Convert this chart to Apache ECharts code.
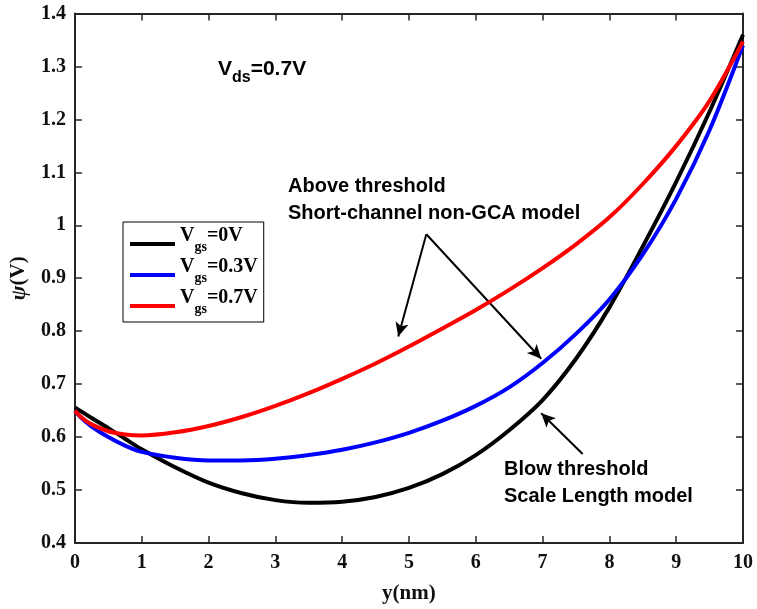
<!DOCTYPE html>
<html>
<head>
<meta charset="utf-8">
<script src="https://cdn.jsdelivr.net/npm/echarts@6/dist/echarts.min.js"></script>
<style>
  html, body { margin: 0; padding: 0; background: #fff; }
  #chart { width: 757px; height: 609px; }
</style>
</head>
<body>
<div id="chart"></div>
<script>
// Channel position y (nm)
const positions = [0, 0.1, 0.25, 0.5, 0.75, 1, 1.5, 2, 2.5, 3, 3.5, 4, 4.5, 5, 5.5, 6, 6.5, 7, 7.5, 8, 8.5, 9, 9.5, 10];

// Surface potential psi (V) for each gate bias
const psiVgs0  = [0.656, 0.648, 0.636, 0.617, 0.597, 0.577, 0.543, 0.514, 0.494, 0.481, 0.476, 0.478, 0.487, 0.504, 0.530, 0.566, 0.613, 0.670, 0.748, 0.845, 0.960, 1.082, 1.215, 1.360];
const psiVgs03 = [0.650, 0.636, 0.620, 0.600, 0.584, 0.572, 0.561, 0.556, 0.556, 0.559, 0.566, 0.576, 0.590, 0.608, 0.631, 0.659, 0.694, 0.740, 0.795, 0.860, 0.945, 1.050, 1.180, 1.340];
const psiVgs07 = [0.650, 0.637, 0.624, 0.611, 0.605, 0.603, 0.609, 0.621, 0.638, 0.659, 0.683, 0.710, 0.739, 0.771, 0.805, 0.840, 0.878, 0.919, 0.964, 1.015, 1.078, 1.150, 1.235, 1.347];

const seriesNames = ['Vgs=0V', 'Vgs=0.3V', 'Vgs=0.7V'];
const legendValues = ['=0V', '=0.3V', '=0.7V'];
const seriesColors = ['#000000', '#0000ff', '#ff0000'];

// Annotation arrows: [from, to] in data coordinates
const arrowAbove1 = [[5.26, 0.983], [4.84, 0.790]];
const arrowAbove2 = [[5.26, 0.983], [6.98, 0.748]];
const arrowBelow  = [[7.60, 0.568], [6.98, 0.645]];

const xTicks = { min: 0, max: 10, interval: 1 };
const yTicks = { min: 0.4, max: 1.4, interval: 0.1 };

const serif = '"Liberation Serif", "Times New Roman", serif';
const sans = '"Liberation Sans", Arial, Helvetica, sans-serif';
const axisColor = '#262626';

function pairs(ys) { return positions.map((x, i) => [x, ys[i]]); }

function arrowLine(seg) {
  return [{ coord: seg[0] }, { coord: seg[1] }];
}

const chart = echarts.init(document.getElementById('chart'), null, { renderer: 'canvas' });

const baseAxisLine = { show: true, onZero: false, lineStyle: { color: axisColor, width: 2 } };
const baseTick = { show: true, inside: true, length: 7, lineStyle: { color: axisColor, width: 1.5 } };

chart.setOption({
  animation: false,
  backgroundColor: '#ffffff',
  grid: { left: 73, right: 14, top: 13.5, bottom: 64.5, containLabel: false },
  xAxis: [
    {
      type: 'value', min: xTicks.min, max: xTicks.max, interval: xTicks.interval,
      position: 'bottom',
      axisLine: baseAxisLine, axisTick: baseTick, splitLine: { show: false },
      axisLabel: { color: '#111', fontFamily: serif, fontWeight: 'bold', fontSize: 20, margin: 10 },
      name: 'y(nm)', nameLocation: 'middle', nameGap: 40,
      nameTextStyle: { color: '#111', fontFamily: serif, fontWeight: 'bold', fontSize: 21 }
    },
    {
      type: 'value', min: xTicks.min, max: xTicks.max, interval: xTicks.interval,
      position: 'top',
      axisLine: baseAxisLine, axisTick: baseTick, splitLine: { show: false },
      axisLabel: { show: false }
    }
  ],
  yAxis: [
    {
      type: 'value', min: yTicks.min, max: yTicks.max, interval: yTicks.interval,
      position: 'left',
      axisLine: baseAxisLine, axisTick: baseTick, splitLine: { show: false },
      axisLabel: { color: '#111', fontFamily: serif, fontWeight: 'bold', fontSize: 20, margin: 9 },
      name: '{p|ψ}{b|(V)}', nameLocation: 'middle', nameGap: 42, nameRotate: 90,
      nameTextStyle: {
        rich: {
          p: { fontFamily: serif, fontStyle: 'italic', fontWeight: 'bold', fontSize: 22, color: '#111' },
          b: { fontFamily: serif, fontWeight: 'bold', fontSize: 21, color: '#111' }
        }
      }
    },
    {
      type: 'value', min: yTicks.min, max: yTicks.max, interval: yTicks.interval,
      position: 'right',
      axisLine: baseAxisLine, axisTick: baseTick, splitLine: { show: false },
      axisLabel: { show: false }
    }
  ],
  legend: {
    orient: 'vertical',
    left: 123, top: 222,
    data: seriesNames,
    icon: 'rect',
    itemWidth: 45, itemHeight: 4,
    itemGap: 3,
    padding: [4, 6, 6, 7],
    borderColor: '#000', borderWidth: 1,
    backgroundColor: '#fff',
    formatter: function (name) {
      const i = seriesNames.indexOf(name);
      return '{v|V}{s|gs}{v|' + legendValues[i] + '}';
    },
    textStyle: {
      rich: {
        v: { fontFamily: serif, fontWeight: 'bold', fontSize: 20, color: '#000', lineHeight: 20, verticalAlign: 'bottom', padding: [0, 0, 8, 0] },
        s: { fontFamily: serif, fontWeight: 'bold', fontSize: 14, color: '#000', lineHeight: 14, verticalAlign: 'bottom' }
      }
    }
  },
  series: [
    {
      name: seriesNames[0], type: 'line', data: pairs(psiVgs0), smooth: 0.3, showSymbol: false,
      lineStyle: { color: seriesColors[0], width: 4 }, itemStyle: { color: seriesColors[0] }, z: 3,
      markLine: {
        silent: true, symbol: ['none', 'arrow'], symbolSize: [10, 14],
        lineStyle: { color: '#000', width: 2, type: 'solid' }, label: { show: false },
        data: [arrowLine(arrowAbove1), arrowLine(arrowAbove2), arrowLine(arrowBelow)]
      }
    },
    {
      name: seriesNames[1], type: 'line', data: pairs(psiVgs03), smooth: 0.3, showSymbol: false,
      lineStyle: { color: seriesColors[1], width: 4 }, itemStyle: { color: seriesColors[1] }, z: 4
    },
    {
      name: seriesNames[2], type: 'line', data: pairs(psiVgs07), smooth: 0.3, showSymbol: false,
      lineStyle: { color: seriesColors[2], width: 4 }, itemStyle: { color: seriesColors[2] }, z: 5
    }
  ],
  graphic: [
    {
      type: 'text', left: 218, top: 59, z: 10,
      style: {
        text: '{v|V}{s|ds}{v|=0.7V}',
        rich: {
          v: { font: 'bold 21px ' + sans, fill: '#000', lineHeight: 22, verticalAlign: 'bottom', padding: [0, 0, 6, 0] },
          s: { font: 'bold 16px ' + sans, fill: '#000', lineHeight: 16, verticalAlign: 'bottom' }
        }
      }
    },
    { type: 'text', left: 288, top: 176, z: 10, style: { text: 'Above threshold', font: 'bold 20px ' + sans, fill: '#000' } },
    { type: 'text', left: 288, top: 203, z: 10, style: { text: 'Short-channel non-GCA model', font: 'bold 20px ' + sans, fill: '#000' } },
    { type: 'text', left: 504, top: 459, z: 10, style: { text: 'Blow threshold', font: 'bold 20px ' + sans, fill: '#000' } },
    { type: 'text', left: 504, top: 486, z: 10, style: { text: 'Scale Length model', font: 'bold 20px ' + sans, fill: '#000' } }
  ]
});
</script>
</body>
</html>
